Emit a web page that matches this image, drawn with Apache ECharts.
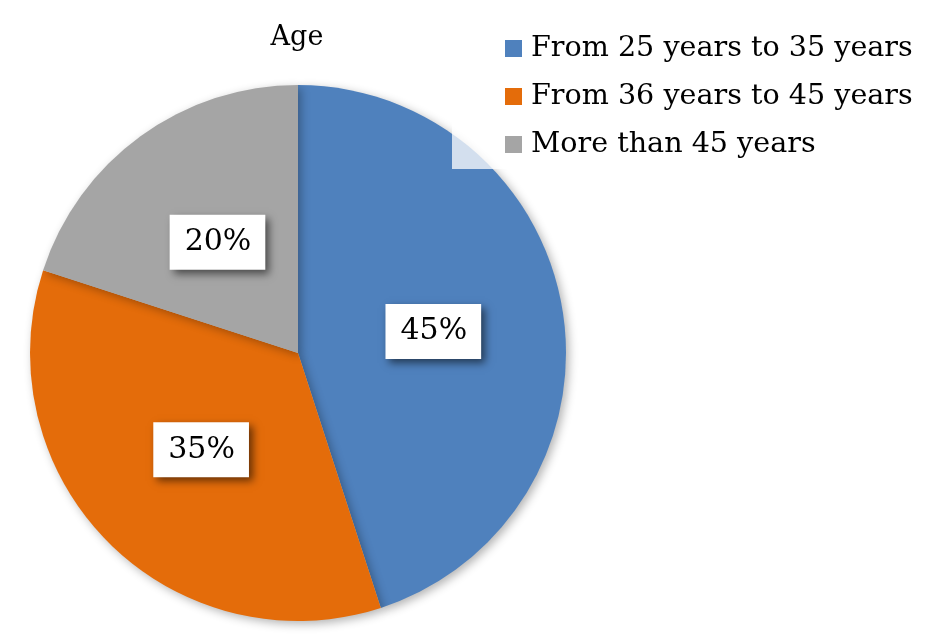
<!DOCTYPE html>
<html><head><meta charset="utf-8">
<script src="https://cdn.jsdelivr.net/npm/echarts@6/dist/echarts.min.js"></script>
<style>html,body{margin:0;padding:0;background:#fff}#c{width:934px;height:639px}</style>
</head><body><div id="c"></div>
<script>
var categories = ['From 25 years to 35 years', 'From 36 years to 45 years', 'More than 45 years'];
var values = [45, 35, 20];
var colors = ['#4F81BD', '#E46C0A', '#A5A5A5'];
var FONT = 'DejaVu Serif';
var chart = echarts.init(document.getElementById('c'));
chart.setOption({
  animation: false,
  title: { text: 'Age', left: 292, top: 19, textAlign: 'center',
    textStyle: { fontFamily: FONT, fontWeight: 'normal', fontSize: 27, color: '#000' } },
  legend: {
    orient: 'vertical', left: 452, top: 24, width: 482,
    padding: [10, 20, 10, 53], itemGap: 19,
    backgroundColor: 'rgba(255,255,255,0.75)',
    icon: 'rect', itemWidth: 17, itemHeight: 17,
    textStyle: { fontFamily: FONT, fontSize: 28.6, color: '#000', padding: [0, 0, 0, 4] },
    data: categories
  },
  series: [{
    type: 'pie', center: [298, 353], radius: 268, startAngle: 90, clockwise: true,
    color: colors,
    itemStyle: { shadowBlur: 10, shadowColor: 'rgba(0,0,0,0.3)', shadowOffsetX: 3, shadowOffsetY: 3 },
    label: {
      position: 'inside', formatter: '{d}%',
      fontFamily: FONT, fontSize: 30, color: '#000',
      backgroundColor: '#fff', padding: [13, 14, 12, 15],
      shadowBlur: 8, shadowColor: 'rgba(0,0,0,0.55)', shadowOffsetX: 4, shadowOffsetY: 4
    },
    labelLine: { show: false },
    emphasis: { disabled: true },
    data: categories.map(function (c, i) { return { name: c, value: values[i] }; })
  }]
});
</script></body></html>
